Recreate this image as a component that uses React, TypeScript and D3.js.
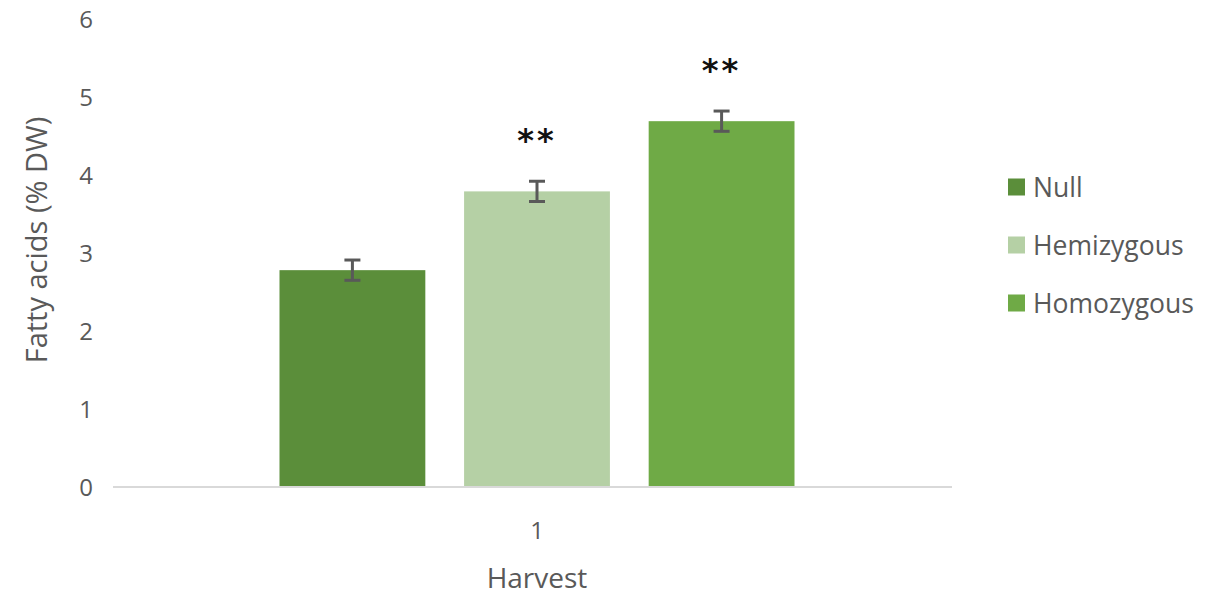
import React from "react";
import * as d3 from "d3";

const categories = ["1"];
const seriesNames = ["Null", "Hemizygous", "Homozygous"];
const seriesValues = [2.78, 3.79, 4.69];
const seriesErrors = [0.13, 0.13, 0.13];
const significance = ["", "**", "**"];
const seriesColors = ["#5b8e3a", "#b5d0a5", "#6faa46"];
const yTicks = [0, 1, 2, 3, 4, 5, 6];

export default function App() {
  const W = 1212, H = 596;
  const font = "'Open Sans', 'Noto Sans', sans-serif";
  const x0 = 122, x1 = 952;
  const y = d3.scaleLinear().domain([0, 6]).range([487, 19]);
  const xCat = d3.scaleBand().domain(categories).range([x0, x1]).paddingInner(0).paddingOuter(0);
  const bw = xCat.bandwidth();
  const groupW = 515;
  const xSer = d3.scaleBand().domain(seriesNames).range([0, groupW]).paddingInner(0.21).paddingOuter(0);
  const txtColor = "#595959";
  return (
    <svg width={W} height={H} style={{ display: "block", position: "absolute", left: 0, top: 0 }}>
      <rect width={W} height={H} fill="#fff" />
      {yTicks.map(t => (
        <text key={t} x={93} y={y(t)} dy="0.36em" textAnchor="end" fontSize={24} fill={txtColor} fontFamily={font}>{t}</text>
      ))}
      <text transform={`translate(47,${240}) rotate(-90)`} textAnchor="middle" fontSize={29} fill={txtColor} fontFamily={font}>Fatty acids (% DW)</text>
      {categories.map(c => {
        const gx = (xCat(c) as number) + (bw - groupW) / 2;
        return (
          <g key={c}>
            {seriesNames.map((s, i) => {
              const bx = gx + (xSer(s) as number);
              const cx = bx + xSer.bandwidth() / 2;
              const v = seriesValues[i], e = seriesErrors[i];
              return (
                <g key={s}>
                  <rect x={bx} y={y(v)} width={xSer.bandwidth()} height={y(0) - y(v)} fill={seriesColors[i]} />
                  <line x1={cx} x2={cx} y1={y(v + e)} y2={y(v - e)} stroke="#595959" strokeWidth={3} />
                  <line x1={cx - 8} x2={cx + 8} y1={y(v + e)} y2={y(v + e)} stroke="#595959" strokeWidth={3} />
                  <line x1={cx - 8} x2={cx + 8} y1={y(v - e)} y2={y(v - e)} stroke="#595959" strokeWidth={3} />
                  {significance[i] && (
                    <text x={cx} y={y(v + e) - 30} textAnchor="middle" fontSize={32} fontWeight="bold" fill="#111" fontFamily="'DejaVu Sans', sans-serif" letterSpacing={3}>{significance[i]}</text>
                  )}
                </g>
              );
            })}
            <text x={(xCat(c) as number) + bw / 2} y={530} dy="0.36em" textAnchor="middle" fontSize={24} fill={txtColor} fontFamily={font}>{c}</text>
          </g>
        );
      })}
      <line x1={113} x2={x1} y1={y(0)} y2={y(0)} stroke="#d9d9d9" strokeWidth={2} />
      <text x={537} y={578} dy="0.36em" textAnchor="middle" fontSize={28} fill={txtColor} fontFamily={font}>Harvest</text>
      {seriesNames.map((s, i) => (
        <g key={s} transform={`translate(1008,${187 + i * 58})`}>
          <rect x={0} y={-8.5} width={17} height={17} fill={seriesColors[i]} />
          <text x={25} y={0} dy="0.36em" fontSize={26.5} fill={txtColor} fontFamily={font}>{s}</text>
        </g>
      ))}
    </svg>
  );
}
